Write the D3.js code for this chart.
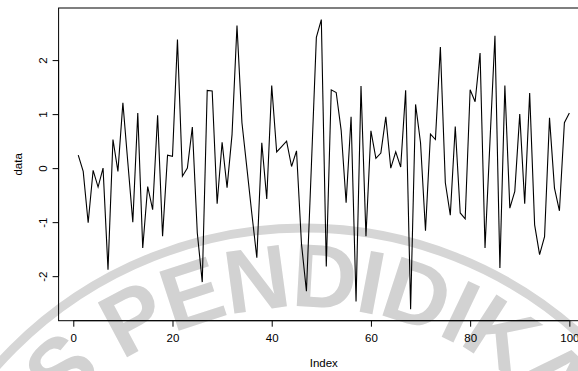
<!DOCTYPE html>
<html><head><meta charset="utf-8">
<script src="https://cdn.jsdelivr.net/npm/d3@7"></script>
<style>
html,body{margin:0;padding:0;background:#fff;}
svg{display:block;font-family:"Liberation Sans",Arial,sans-serif;}
</style></head>
<body>
<svg id="chart" width="578" height="371"></svg>
<script>
// ---- data ----
const values = [
 0.24,-0.06,-1.01,-0.04,-0.35, 0.00,-1.88, 0.53,-0.06, 1.21,
 0.10,-1.00, 1.02,-1.48,-0.34,-0.77, 0.98,-1.26, 0.24, 0.22,
 2.38,-0.15, 0.00, 0.76,-1.20,-2.11, 1.44, 1.43,-0.66, 0.48,
-0.36, 0.62, 2.64, 0.84, 0.00,-0.85,-1.66, 0.47,-0.57, 1.53,
 0.30, 0.40, 0.50, 0.03, 0.32,-1.40,-2.28, 0.05, 2.42, 2.75,
-1.82, 1.45, 1.40, 0.70,-0.64, 0.95,-2.47, 1.52,-1.26, 0.69,
 0.18, 0.28, 0.95, 0.00, 0.30, 0.02, 1.44,-2.61, 1.18, 0.47,
-1.16, 0.63, 0.53, 2.24,-0.27,-0.87, 0.77,-0.83,-0.94, 1.45,
 1.23, 2.13,-1.48, 0.50, 2.45,-1.85, 1.53,-0.74,-0.43, 1.00,
-0.66, 1.39,-1.05,-1.60,-1.27, 0.93,-0.37,-0.79, 0.84, 1.02
];
const index = values.map((v,i)=>i+1);
const xTicks = [0,20,40,60,80,100];
const yTicks = [-2,-1,0,1,2];
const xLabel = "Index";
const yLabel = "data";
const watermarkText = "S PENDIDIKAN";

// ---- layout ----
const svg = d3.select("#chart");
const L = 58.6, R = 589, T = 8, B = 320.7;

function expand(ext){ const r = ext[1]-ext[0]; return [ext[0]-0.04*r, ext[1]+0.04*r]; }
const x = d3.scaleLinear().domain(expand(d3.extent(index))).range([L, R]);
const y = d3.scaleLinear().domain(expand(d3.extent(values))).range([B, T]);

// ---- watermark ----
const wm = svg.append("g").attr("class","watermark");
const cx = 304, cy = 639, rBand = 411, rText = 332;
wm.append("circle").attr("cx",cx).attr("cy",cy).attr("r",rBand)
  .attr("fill","none").attr("stroke","#d6d6d6").attr("stroke-width",9);
const arcPath = `M ${cx-rText} ${cy} A ${rText} ${rText} 0 0 1 ${cx+rText} ${cy}`;
wm.append("path").attr("id","wmArc").attr("d",arcPath).attr("fill","none");
wm.append("text").attr("font-size",90).attr("font-weight","bold").attr("fill","#d2d2d2")
  .attr("letter-spacing",-2)
  .append("textPath").attr("href","#wmArc").attr("startOffset",248).text(watermarkText);

// ---- plot box ----
svg.append("rect").attr("x",L).attr("y",T).attr("width",R-L).attr("height",B-T)
  .attr("fill","none").attr("stroke","#000").attr("stroke-width",1);

// ---- axes ----
const fmt = d => String(d).replace("\u2212","-");
const xAxis = svg.append("g").attr("transform",`translate(0,${B})`)
  .call(d3.axisBottom(x).tickValues(xTicks).tickSize(6).tickPadding(7).tickFormat(fmt));
const yAxis = svg.append("g").attr("transform",`translate(${L},0)`)
  .call(d3.axisLeft(y).tickValues(yTicks).tickSize(6).tickPadding(7).tickFormat(fmt));
[xAxis,yAxis].forEach(g=>{
  g.select(".domain").remove();
  g.selectAll(".tick line").attr("stroke","#000");
  g.selectAll("text").attr("font-size",11.5).attr("fill","#000")
    .attr("font-family","'Liberation Sans',Arial,sans-serif");
});
svg.append("line").attr("x1",x(xTicks[0])).attr("x2",x(xTicks[xTicks.length-1]))
  .attr("y1",B).attr("y2",B).attr("stroke","#000");
svg.append("line").attr("y1",y(yTicks[0])).attr("y2",y(yTicks[yTicks.length-1]))
  .attr("x1",L).attr("x2",L).attr("stroke","#000");
yAxis.selectAll(".tick text")
  .attr("x",null).attr("dy",null)
  .attr("text-anchor","middle")
  .attr("transform","translate(-12,0) rotate(-90)");

// ---- series line ----
const line = d3.line().x((d,i)=>x(index[i])).y(d=>y(d));
svg.append("path").datum(values).attr("d",line)
  .attr("fill","none").attr("stroke","#000").attr("stroke-width",1.1)
  .attr("stroke-linejoin","miter");

// ---- axis titles ----
svg.append("text").attr("x",(L+R)/2).attr("y",367).attr("text-anchor","middle")
  .attr("font-size",11.5).text(xLabel);
svg.append("text").attr("transform",`translate(22,${(T+B)/2}) rotate(-90)`)
  .attr("text-anchor","middle").attr("font-size",11.5).text(yLabel);
</script>
</body></html>
